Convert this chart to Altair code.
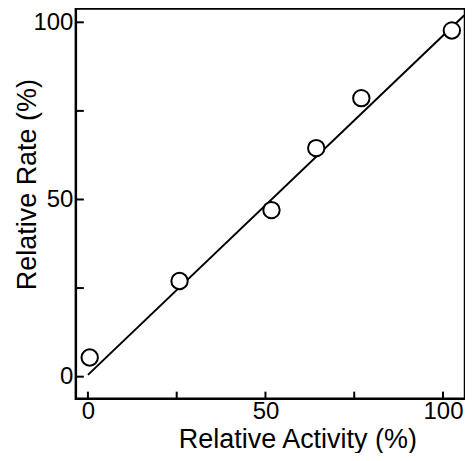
import altair as alt
import pandas as pd

# data
activity = [0.5, 25.8, 51.7, 64.3, 77.0, 102.5]
rate = [5.4, 27.0, 47.0, 64.5, 78.6, 97.7]
fit_x = [0, 106]
fit_y = [0.5, 102]
x_ticks = [0, 25, 50, 75, 100]
y_ticks = [0, 25, 50, 75, 100]
x_labels = [0, 50, 100]
y_labels = [0, 50, 100]

W, H = 390, 391
FONT = "Liberation Sans, sans-serif"

xs = alt.Scale(domain=[-3.4, 106.2], nice=False, zero=False)
ys = alt.Scale(domain=[-6.2, 103.9], nice=False, zero=False)

pts = pd.DataFrame({"a": activity, "r": rate})
fit = pd.DataFrame({"a": fit_x, "r": fit_y})
xt = pd.DataFrame({"v": x_ticks})
yt = pd.DataFrame({"v": y_ticks})

xaxis = alt.Axis(values=x_labels, ticks=False, domain=False, grid=False,
                 labelFontSize=24, labelFont=FONT, labelColor="black",
                 labelPadding=1, title="Relative Activity (%)",
                 titleFont=FONT, titleFontSize=27, titleFontWeight="normal",
                 titleColor="black", titleX=222, titleY=49,
                 titleAlign="center", titleBaseline="alphabetic")
yaxis = alt.Axis(values=y_labels, ticks=False, domain=False, grid=False,
                 labelFontSize=24, labelFont=FONT, labelColor="black",
                 labelPadding=3, title="Relative Rate (%)",
                 titleFont=FONT, titleFontSize=27, titleFontWeight="normal",
                 titleColor="black", titleX=-40, titleY=176, titleAngle=-90,
                 titleAlign="center", titleBaseline="alphabetic")

frame = alt.Chart(pd.DataFrame({"k": [0]})).mark_rect(
    fill=None, stroke="black", strokeWidth=2.5).encode(
    x=alt.value(0), x2=alt.value(W), y=alt.value(0), y2=alt.value(H))

line = alt.Chart(fit).mark_line(color="black", strokeWidth=2).encode(
    x=alt.X("a:Q", scale=xs, axis=xaxis),
    y=alt.Y("r:Q", scale=ys, axis=yaxis),
)
points = alt.Chart(pts).mark_point(shape="circle", filled=False, size=270,
                                   strokeWidth=2, color="black", opacity=1,
                                   fill="white", fillOpacity=1).encode(
    x=alt.X("a:Q", scale=xs),
    y=alt.Y("r:Q", scale=ys),
)
xtick = alt.Chart(xt).mark_rule(color="black", strokeWidth=2).encode(
    x=alt.X("v:Q", scale=xs),
    y=alt.value(H),
    y2=alt.value(H - 7),
)
ytick = alt.Chart(yt).mark_rule(color="black", strokeWidth=2).encode(
    y=alt.Y("v:Q", scale=ys),
    x=alt.value(0),
    x2=alt.value(8),
)

chart = alt.layer(line, points, xtick, ytick, frame).properties(
    width=W, height=H,
    autosize=alt.AutoSizeParams(type="none"),
    padding={"left": 68, "top": 0, "right": 0, "bottom": 54},
).configure_view(stroke=None).configure(background="white")

chart.save("out.html", embed_options={"renderer": "svg", "actions": False})
